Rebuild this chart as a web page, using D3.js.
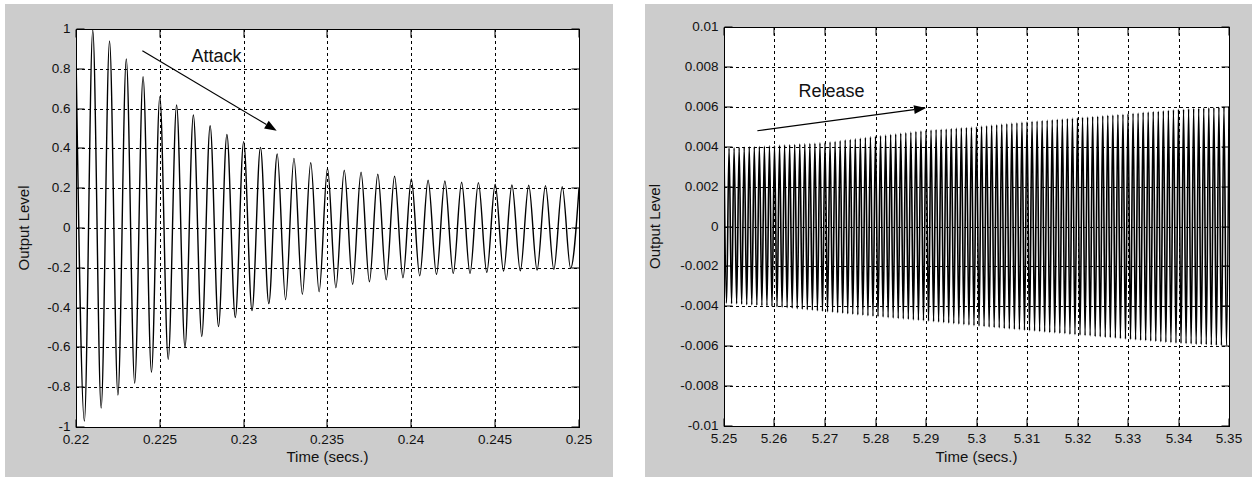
<!DOCTYPE html>
<html><head><meta charset="utf-8">
<script src="https://cdn.jsdelivr.net/npm/d3@7"></script>
<style>
body{margin:0;background:#fff}
svg{display:block}
text{font-family:Arial,"Liberation Sans",sans-serif;fill:#111}
</style>
</head><body>
<svg id="c" width="1252" height="479"></svg>
<script>
// ---------------- DATA ----------------
// Attack panel: peaks every 1 ms starting at 0.220 s, troughs half a period later
const attackXTicks = [0.22, 0.225, 0.23, 0.235, 0.24, 0.245, 0.25];
const attackXTickLabels = ["0.22", "0.225", "0.23", "0.235", "0.24", "0.245", "0.25"];
const attackYTicks = [-1, -0.8, -0.6, -0.4, -0.2, 0, 0.2, 0.4, 0.6, 0.8, 1];
const attackYTickLabels = ["-1", "-0.8", "-0.6", "-0.4", "-0.2", "0", "0.2", "0.4", "0.6", "0.8", "1"];
const attackPeakStart = 0.220;
const attackPeaks = [0.88, 0.995, 0.94, 0.85, 0.76, 0.66, 0.618, 0.568, 0.514, 0.47, 0.434, 0.405, 0.372, 0.35, 0.328,
  0.30, 0.29, 0.28, 0.27, 0.26, 0.246, 0.24, 0.236, 0.23, 0.228, 0.22, 0.216, 0.215, 0.213, 0.208, 0.20];
const attackTroughs = [-0.97, -0.905, -0.84, -0.78, -0.725, -0.66, -0.60, -0.545, -0.495, -0.45, -0.415, -0.38, -0.36, -0.333,
  -0.32, -0.30, -0.283, -0.27, -0.26, -0.25, -0.24, -0.233, -0.228, -0.228, -0.223, -0.216, -0.215, -0.211, -0.208, -0.203];

// Release panel: peaks every 1 ms starting at 5.25 s, troughs half a period later
const releaseXTicks = [5.25, 5.26, 5.27, 5.28, 5.29, 5.3, 5.31, 5.32, 5.33, 5.34, 5.35];
const releaseXTickLabels = ["5.25", "5.26", "5.27", "5.28", "5.29", "5.3", "5.31", "5.32", "5.33", "5.34", "5.35"];
const releaseYTicks = [-0.01, -0.008, -0.006, -0.004, -0.002, 0, 0.002, 0.004, 0.006, 0.008, 0.01];
const releaseYTickLabels = ["-0.01", "-0.008", "-0.006", "-0.004", "-0.002", "0", "0.002", "0.004", "0.006", "0.008", "0.01"];
const releasePeakStart = 5.25;
const releasePeaks = [
  0.00392,0.00393,0.00395,0.00396,0.00397,0.00399,0.00400,0.00401,0.00402,0.00404,
  0.00405,0.00407,0.00408,0.00410,0.00411,0.00413,0.00414,0.00416,0.00417,0.00419,
  0.00420,0.00423,0.00426,0.00430,0.00433,0.00436,0.00439,0.00442,0.00446,0.00449,
  0.00452,0.00455,0.00458,0.00461,0.00464,0.00467,0.00470,0.00473,0.00476,0.00479,
  0.00482,0.00484,0.00486,0.00487,0.00489,0.00491,0.00493,0.00495,0.00496,0.00498,
  0.00500,0.00503,0.00505,0.00508,0.00510,0.00513,0.00515,0.00518,0.00520,0.00523,
  0.00525,0.00527,0.00529,0.00531,0.00533,0.00535,0.00537,0.00539,0.00541,0.00543,
  0.00545,0.00547,0.00549,0.00551,0.00553,0.00555,0.00557,0.00559,0.00561,0.00563,
  0.00565,0.00567,0.00569,0.00572,0.00574,0.00576,0.00578,0.00580,0.00583,0.00585,
  0.00587,0.00588,0.00590,0.00591,0.00592,0.00594,0.00595,0.00596,0.00597,0.00599,
  0.00600];
const releaseTroughs = [
  -0.00385,-0.00387,-0.00388,-0.00390,-0.00392,-0.00393,-0.00395,-0.00397,-0.00398,-0.00400,
  -0.00402,-0.00405,-0.00407,-0.00410,-0.00412,-0.00415,-0.00417,-0.00420,-0.00422,-0.00425,
  -0.00427,-0.00430,-0.00432,-0.00435,-0.00437,-0.00440,-0.00442,-0.00445,-0.00447,-0.00450,
  -0.00452,-0.00454,-0.00457,-0.00459,-0.00461,-0.00463,-0.00465,-0.00468,-0.00470,-0.00472,
  -0.00474,-0.00477,-0.00479,-0.00482,-0.00484,-0.00487,-0.00489,-0.00492,-0.00494,-0.00497,
  -0.00499,-0.00501,-0.00504,-0.00506,-0.00508,-0.00511,-0.00513,-0.00515,-0.00517,-0.00520,
  -0.00522,-0.00524,-0.00526,-0.00529,-0.00531,-0.00533,-0.00535,-0.00537,-0.00540,-0.00542,
  -0.00544,-0.00546,-0.00548,-0.00551,-0.00553,-0.00555,-0.00557,-0.00559,-0.00562,-0.00564,
  -0.00566,-0.00568,-0.00570,-0.00572,-0.00574,-0.00576,-0.00578,-0.00580,-0.00582,-0.00584,
  -0.00586,-0.00587,-0.00588,-0.00590,-0.00591,-0.00592,-0.00594,-0.00595,-0.00596,-0.00597];

const period = 0.001; // seconds between successive peaks (1 kHz tone)

// Annotations (data coordinates)
const attackNote = {text: "Attack", tx: 0.22838, ty: 0.834, from: [0.22396, 0.891], to: [0.23197, 0.489]};
const releaseNote = {text: "Release", tx: 5.2713, ty: 0.00649, from: [5.2566, 0.0048], to: [5.2900, 0.00594]};

// ---------------- DRAW ----------------
const svg = d3.select("#c");

function extrema(peaks, troughs, start) {
  const pts = [];
  peaks.forEach((p, i) => {
    pts.push([start + i * period, p]);
    if (i < troughs.length) pts.push([start + (i + 0.5) * period, troughs[i]]);
  });
  return pts;
}

function panel(cfg, id) {
  const g = svg.append("g");
  g.append("rect").attr("x", cfg.bg[0]).attr("y", cfg.bg[1]).attr("width", cfg.bg[2]).attr("height", cfg.bg[3]).attr("fill", "#cccccc");

  const x = d3.scaleLinear().domain([cfg.xTicks[0], cfg.xTicks[cfg.xTicks.length - 1]]).range([cfg.x0, cfg.x1]);
  const y = d3.scaleLinear().domain([cfg.yTicks[0], cfg.yTicks[cfg.yTicks.length - 1]]).range([cfg.y1, cfg.y0]);

  g.append("rect").attr("x", cfg.x0).attr("y", cfg.y0).attr("width", cfg.x1 - cfg.x0).attr("height", cfg.y1 - cfg.y0).attr("fill", "#fff");

  const crisp = v => Math.round(v) + 0.5;
  // grid
  g.append("g").selectAll("line").data(cfg.xTicks.slice(1, -1)).join("line")
    .attr("x1", d => crisp(x(d))).attr("x2", d => crisp(x(d)))
    .attr("y1", cfg.y0).attr("y2", cfg.y1)
    .attr("stroke", "#000").attr("stroke-width", 1).attr("stroke-dasharray", "3,3");
  g.append("g").selectAll("line").data(cfg.yTicks.slice(1, -1)).join("line")
    .attr("y1", d => crisp(y(d))).attr("y2", d => crisp(y(d)))
    .attr("x1", cfg.x0).attr("x2", cfg.x1)
    .attr("stroke", "#000").attr("stroke-width", 1).attr("stroke-dasharray", "3,3");

  // waveform
  g.append("clipPath").attr("id", id).append("rect")
    .attr("x", cfg.x0).attr("y", cfg.y0).attr("width", cfg.x1 - cfg.x0).attr("height", cfg.y1 - cfg.y0);
  const line = d3.line().x(d => x(d[0])).y(d => y(d[1])).curve(d3.curveMonotoneX);
  g.append("path").attr("clip-path", `url(#${id})`)
    .attr("d", line(extrema(cfg.peaks, cfg.troughs, cfg.start)))
    .attr("fill", "none").attr("stroke", "#000").attr("stroke-width", cfg.lw);

  // axes (ticks inward on all sides)
  const tl = 8, fs = "13.5px";
  const ax = g.append("g").attr("transform", `translate(0,${cfg.y1 + 0.5})`)
    .call(d3.axisBottom(x).tickValues(cfg.xTicks).tickFormat((d, i) => cfg.xLabels[i]).tickSizeInner(-tl).tickSizeOuter(0).tickPadding(7));
  const ay = g.append("g").attr("transform", `translate(${cfg.x0 + 0.5},0)`)
    .call(d3.axisLeft(y).tickValues(cfg.yTicks).tickFormat((d, i) => cfg.yLabels[i]).tickSizeInner(-tl).tickSizeOuter(0).tickPadding(6));
  const at = g.append("g").attr("transform", `translate(0,${cfg.y0 + 0.5})`)
    .call(d3.axisTop(x).tickValues(cfg.xTicks).tickFormat("").tickSizeInner(-tl).tickSizeOuter(0));
  const ar = g.append("g").attr("transform", `translate(${cfg.x1 + 0.5},0)`)
    .call(d3.axisRight(y).tickValues(cfg.yTicks).tickFormat("").tickSizeInner(-tl).tickSizeOuter(0));
  [ax, ay, at, ar].forEach(a => {
    a.select(".domain").remove();
    a.selectAll("line").attr("stroke", "#000");
    a.selectAll("text").attr("font-size", fs).attr("font-family", "Arial, 'Liberation Sans', sans-serif").attr("fill", "#111");
  });
  ax.selectAll(".tick").attr("transform", d => `translate(${crisp(x(d)) - 0.5},0)`);
  ay.selectAll(".tick").attr("transform", d => `translate(0,${crisp(y(d)) - 0.5})`);
  at.selectAll(".tick").attr("transform", d => `translate(${crisp(x(d)) - 0.5},0)`);
  ar.selectAll(".tick").attr("transform", d => `translate(0,${crisp(y(d)) - 0.5})`);

  // frame
  g.append("rect").attr("x", cfg.x0 + 0.5).attr("y", cfg.y0 + 0.5).attr("width", cfg.x1 - cfg.x0).attr("height", cfg.y1 - cfg.y0)
    .attr("fill", "none").attr("stroke", "#000").attr("stroke-width", 1);

  // axis labels
  g.append("text").attr("x", (cfg.x0 + cfg.x1) / 2).attr("y", cfg.xLabelY).attr("text-anchor", "middle")
    .attr("font-size", "15px").text("Time (secs.)");
  g.append("text").attr("transform", `translate(${cfg.yLabelX},${(cfg.y0 + cfg.y1) / 2}) rotate(-90)`).attr("text-anchor", "middle")
    .attr("font-size", "15px").text("Output Level");

  // annotation
  const n = cfg.note;
  g.append("text").attr("x", x(n.tx)).attr("y", y(n.ty)).attr("text-anchor", "middle").attr("font-size", "18px").text(n.text);
  const x1 = x(n.from[0]), y1 = y(n.from[1]), x2 = x(n.to[0]), y2 = y(n.to[1]);
  const ang = Math.atan2(y2 - y1, x2 - x1), hl = 12, hw = 4.5;
  const bx = x2 - hl * Math.cos(ang), by = y2 - hl * Math.sin(ang);
  g.append("line").attr("x1", x1).attr("y1", y1).attr("x2", bx).attr("y2", by).attr("stroke", "#000").attr("stroke-width", 1.2);
  g.append("path").attr("d", d3.line()([
    [x2, y2],
    [bx + hw * Math.sin(ang), by - hw * Math.cos(ang)],
    [bx - hw * Math.sin(ang), by + hw * Math.cos(ang)]
  ]) + "Z").attr("fill", "#000");
}

panel({
  bg: [5, 4, 608, 473], x0: 76, x1: 579, y0: 29, y1: 427,
  xTicks: attackXTicks, xLabels: attackXTickLabels, yTicks: attackYTicks, yLabels: attackYTickLabels,
  peaks: attackPeaks, troughs: attackTroughs, start: attackPeakStart, lw: 1.4,
  xLabelY: 462, yLabelX: 29, note: attackNote
}, "clipA");

panel({
  bg: [645, 4, 607, 473], x0: 724, x1: 1229, y0: 27, y1: 426,
  xTicks: releaseXTicks, xLabels: releaseXTickLabels, yTicks: releaseYTicks, yLabels: releaseYTickLabels,
  peaks: releasePeaks, troughs: releaseTroughs, start: releasePeakStart, lw: 1.6,
  xLabelY: 462, yLabelX: 660, note: releaseNote
}, "clipR");
</script>
</body></html>
